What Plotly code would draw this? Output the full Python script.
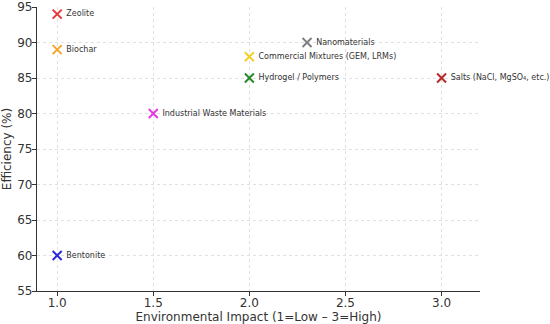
import plotly.graph_objects as go

materials = ["Zeolite", "Biochar", "Bentonite", "Industrial Waste Materials",
             "Commercial Mixtures (GEM, LRMs)", "Hydrogel / Polymers",
             "Nanomaterials", "Salts (NaCl, MgSO₄, etc.)"]
impact = [1.0, 1.0, 1.0, 1.5, 2.0, 2.0, 2.3, 3.0]
efficiency = [94, 89, 60, 80, 88, 85, 90, 85]
colors = ["#e8343a", "#f5a52a", "#2a2ad8", "#e33ce3", "#f2cf2a", "#2a8a2a", "#7f7f7f", "#b82a2a"]

x_ticks = [1.0, 1.5, 2.0, 2.5, 3.0]
y_ticks = [55, 60, 65, 70, 75, 80, 85, 90, 95]

fig = go.Figure()
for m, x, y, c in zip(materials, impact, efficiency, colors):
    fig.add_trace(go.Scatter(
        x=[x], y=[y], mode="markers+text", text=[" " + m], textposition="middle right",
        marker=dict(symbol="x-thin", size=9, line=dict(width=2, color=c), color=c),
        textfont=dict(family="DejaVu Sans", size=8, color="#333333"),
        showlegend=False, cliponaxis=False,
    ))

axis_common = dict(
    showline=True, linecolor="#333333", linewidth=1.2, mirror=False,
    ticks="outside", ticklen=4, tickcolor="#333333",
    showgrid=True, gridcolor="#e0e0e0", griddash="dot", gridwidth=1,
    zeroline=False, automargin=False,
    tickfont=dict(family="DejaVu Sans", size=12, color="#333333"),
)

fig.update_layout(
    width=550, height=324,
    margin=dict(l=37, r=70, t=7, b=33),
    paper_bgcolor="white", plot_bgcolor="white",
    xaxis=dict(range=[0.895, 3.2], tickvals=x_ticks, ticktext=[f"{v:.1f}" for v in x_ticks],
               ticklabelstandoff=-4,
               title=dict(text="Environmental Impact (1=Low – 3=High)",
                          font=dict(family="DejaVu Sans", size=12, color="#333333")),
               **axis_common),
    yaxis=dict(range=[55, 95], tickvals=y_ticks, ticklabelstandoff=-3,
               title=dict(text="Efficiency (%)",
                          font=dict(family="DejaVu Sans", size=12, color="#333333")),
               **axis_common),
)

fig.write_html("out.html", config={"displayModeBar": False},
               post_script="document.body.style.margin='0';document.body.style.overflow='hidden';")
